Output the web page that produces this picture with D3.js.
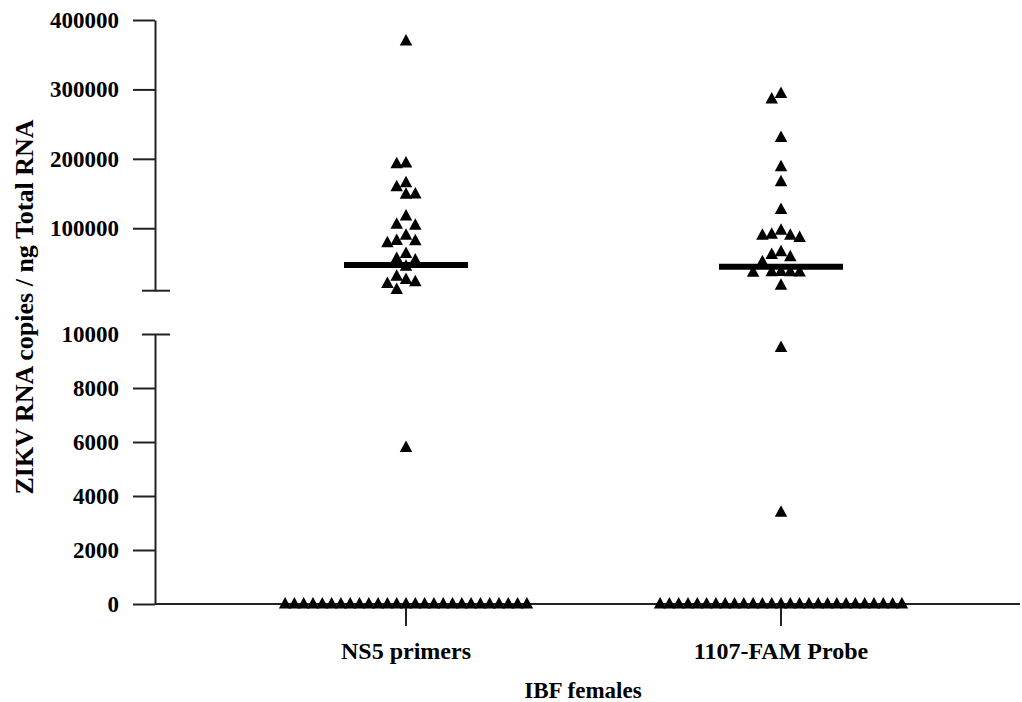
<!DOCTYPE html>
<html>
<head>
<meta charset="utf-8">
<script src="https://cdn.jsdelivr.net/npm/d3@7"></script>
<style>
  html, body { margin: 0; padding: 0; background: #fff; }
  svg { display: block; }
  text { font-family: "Liberation Serif", "Times New Roman", serif; font-weight: bold; fill: #000; }
</style>
</head>
<body>
<svg id="chart" width="1022" height="702"></svg>
<script>
// ---- data ----
const categories = ["NS5 primers", "1107-FAM Probe"];
const ns5Values = [370000, 194000, 193000, 165600, 160000, 149500, 149000, 117600, 106000, 104600,
  90200, 82000, 79100, 82500, 63800, 54200, 56600, 45500, 31100, 26300, 22900, 20600, 12000,
  5800,
  0, 0, 0, 0, 0, 0, 0, 0, 0, 0, 0, 0, 0, 0, 0, 0, 0, 0, 0, 0, 0, 0, 0, 0, 0, 0, 0];
const famValues = [294400, 286200, 231000, 188600, 167000, 127200, 97400, 90200, 86900, 90200,
  91600, 62400, 58900, 66100, 51700, 37300, 37000, 36600, 37600, 37900, 18100,
  9500, 3400,
  0, 0, 0, 0, 0, 0, 0, 0, 0, 0, 0, 0, 0, 0, 0, 0, 0, 0, 0, 0, 0, 0, 0, 0, 0, 0, 0];
const medians = [47000, 44500];
const upperTicks = [100000, 200000, 300000, 400000];
const lowerTicks = [0, 2000, 4000, 6000, 8000, 10000];
const yTitle = "ZIKV RNA copies / ng Total RNA";
const xTitle = "IBF females";

// ---- layout ----
const svg = d3.select("#chart");
const axisX = 155, axisRight = 1020;
const upperY = d3.scaleLinear().domain([10000, 400000]).range([290.7, 20]);
const lowerY = d3.scaleLinear().domain([0, 10000]).range([604, 334]);
const yPos = v => v >= 10000 ? upperY(v) : lowerY(v);
const x = d3.scalePoint().domain(categories).range([406, 781]);

const fmt = d3.format("d");
const stroke = "#222";

// upper axis
const gUp = svg.append("g").attr("transform", `translate(${axisX},0)`)
  .call(d3.axisLeft(upperY).tickValues(upperTicks).tickFormat(fmt).tickSize(22).tickSizeOuter(0).tickPadding(14));
// lower axis
const gLow = svg.append("g").attr("transform", `translate(${axisX},0)`)
  .call(d3.axisLeft(lowerY).tickValues(lowerTicks).tickFormat(fmt).tickSize(22).tickSizeOuter(0).tickPadding(14));

[gUp, gLow].forEach(g => {
  g.select(".domain").attr("stroke", stroke).attr("stroke-width", 2);
  g.selectAll(".tick line").attr("stroke", stroke).attr("stroke-width", 2);
  g.selectAll(".tick text").style("font-size", "23px").style("font-family", '"Liberation Serif", serif').style("font-weight", "bold").attr("fill", "#000");
});
// break ticks extend to both sides
gLow.selectAll(".tick").filter(d => d === 10000).select("line").attr("x1", 15).attr("x2", -13);
svg.append("line")
  .attr("x1", axisX - 13).attr("x2", axisX + 15)
  .attr("y1", upperY(10000)).attr("y2", upperY(10000))
  .attr("stroke", stroke).attr("stroke-width", 2);

// x axis
svg.append("line").attr("x1", axisX).attr("x2", axisRight)
  .attr("y1", lowerY(0)).attr("y2", lowerY(0)).attr("stroke", stroke).attr("stroke-width", 2);
svg.selectAll(".xtick").data(categories).join("line")
  .attr("x1", d => x(d)).attr("x2", d => x(d))
  .attr("y1", lowerY(0)).attr("y2", lowerY(0) + 22)
  .attr("stroke", stroke).attr("stroke-width", 2);

// points (scatter layout)
const step = 9.3, triW = 12.5, triH = 11.5;
function layout(values, cx) {
  const pts = values.map(v => ({ v, y: yPos(v) })).sort((a, b) => b.v - a.v);
  const placed = [];
  for (const p of pts) {
    for (let k = 0; k < 200; k++) {
      const off = k === 0 ? 0 : (k % 2 ? -Math.ceil(k / 2) : Math.ceil(k / 2));
      const px = cx + off * step;
      if (!placed.some(q => Math.abs(q.x - px) < step - 0.01 && Math.abs(q.y - p.y) < triH)) {
        p.x = px; placed.push(p); break;
      }
    }
  }
  return placed;
}
const tri = `M0,${-triH * 0.6}L${triW / 2},${triH * 0.4}L${-triW / 2},${triH * 0.4}Z`;
[ns5Values, famValues].forEach((vals, i) => {
  const pts = layout(vals, x(categories[i]));
  svg.append("g").selectAll("path").data(pts).join("path")
    .attr("d", tri)
    .attr("transform", d => `translate(${d.x},${d.y})`)
    .attr("fill", "#000");
});

// medians
svg.selectAll(".median").data(medians).join("line")
  .attr("x1", (d, i) => x(categories[i]) - 62)
  .attr("x2", (d, i) => x(categories[i]) + 62)
  .attr("y1", d => yPos(d)).attr("y2", d => yPos(d))
  .attr("stroke", "#000").attr("stroke-width", 6);

// category labels
svg.selectAll(".xlab").data(categories).join("text")
  .attr("x", d => x(d)).attr("y", 659)
  .attr("text-anchor", "middle").style("font-size", "24px")
  .text(d => d);

svg.append("text").attr("x", 583).attr("y", 698)
  .attr("text-anchor", "middle").style("font-size", "23px").text(xTitle);

svg.append("text")
  .attr("transform", "translate(33,307) rotate(-90)")
  .attr("text-anchor", "middle").style("font-size", "26px").text(yTitle);
</script>
</body>
</html>
